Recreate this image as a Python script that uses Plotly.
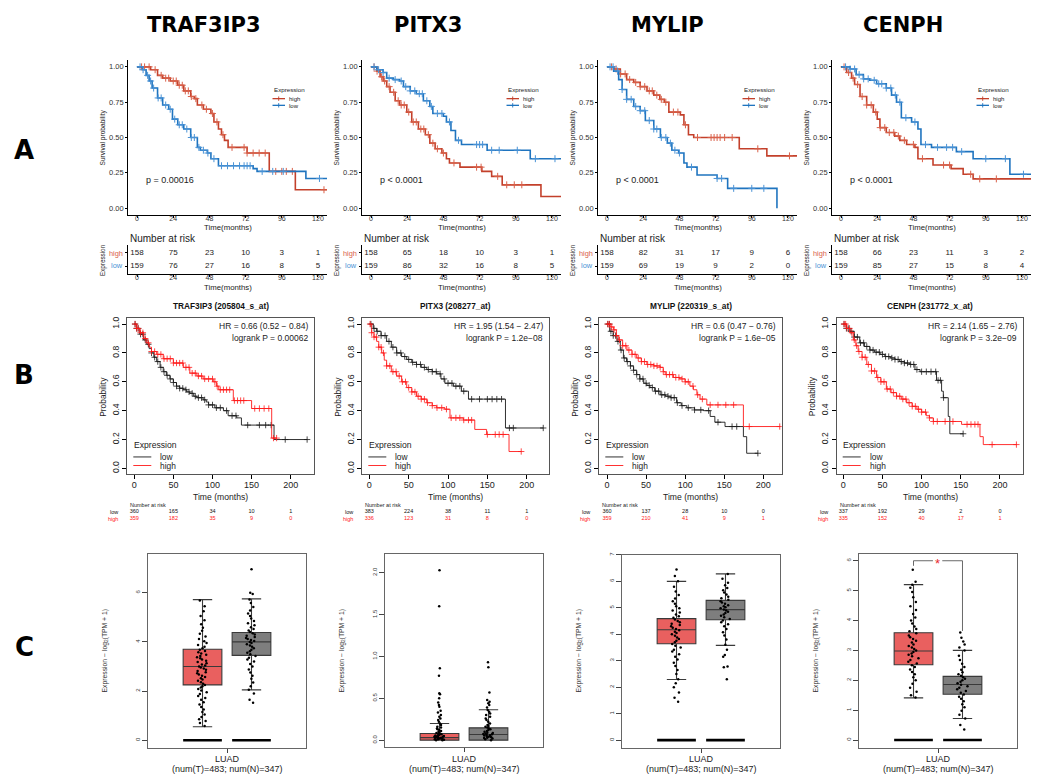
import numpy as np
import plotly.graph_objects as go

# page body has an 8px margin: the figure is sized/offset so reference pixel coords map 1:1
OFF = 8
FW, FH = 1032, 766
def X(px): return (px - OFF) / FW
def Y(py): return 1 - (py - OFF) / FH

FONT = "Liberation Sans, Arial, sans-serif"
NARROW = "Liberation Sans Narrow, Liberation Sans, Arial, sans-serif"
TITLE_FONT = "DejaVu Sans, Verdana, sans-serif"

GENES = ["TRAF3IP3", "PITX3", "MYLIP", "CENPH"]

# ---------------- Row A : TCGA Kaplan-Meier (time, survival) ----------------
A_TRAF3IP3_HIGH = [(0,1.0),(9,0.98),(13.6,0.94),(17,0.92),(22,0.90),(27,0.87),(31,0.83),(35.6,0.79),(38,0.775),(40,0.73),(44,0.70),(49,0.67),(51,0.61),(54,0.56),(56,0.52),(58,0.48),(60.4,0.43),(73,0.39),(87.7,0.26),(105,0.13),(126,0.13)]
A_TRAF3IP3_LOW = [(0,1.0),(3.7,0.98),(6,0.94),(8,0.90),(10,0.85),(13.6,0.78),(17,0.73),(21,0.70),(23.5,0.63),(27,0.59),(31,0.56),(35.6,0.50),(40,0.43),(42,0.41),(46.6,0.39),(49,0.35),(54,0.30),(77,0.28),(79.6,0.26),(112,0.21),(126,0.21)]
A_PITX3_HIGH = [(0,1.0),(3.8,0.97),(6,0.93),(8,0.90),(10.4,0.86),(12.6,0.82),(16,0.76),(19,0.73),(23.7,0.68),(27,0.61),(31.4,0.56),(36,0.52),(39,0.46),(42.5,0.42),(47,0.39),(50,0.35),(52,0.32),(59,0.29),(73.5,0.26),(80,0.225),(87,0.165),(112.7,0.082),(126,0.082)]
A_PITX3_LOW = [(0,1.0),(3.8,0.98),(8,0.96),(10.4,0.92),(14.8,0.91),(19,0.90),(21.5,0.86),(26,0.83),(30,0.81),(34.7,0.76),(39,0.72),(41,0.67),(48,0.65),(50,0.61),(53,0.55),(56,0.48),(60,0.45),(77,0.41),(105.6,0.35),(126,0.35)]
A_MYLIP_HIGH = [(0,1.0),(4.4,0.985),(8.8,0.95),(13,0.91),(17.7,0.89),(22,0.86),(26.5,0.83),(31,0.80),(35,0.77),(38,0.75),(41,0.68),(48.6,0.66),(51,0.59),(54,0.52),(57.5,0.50),(87.7,0.42),(106,0.37),(126,0.37)]
A_MYLIP_LOW = [(0,1.0),(4.4,0.97),(7.7,0.91),(10,0.84),(13,0.77),(17.7,0.72),(22,0.69),(25.4,0.62),(31,0.56),(35.4,0.50),(40,0.46),(43,0.41),(47.5,0.39),(51,0.32),(53,0.29),(59.7,0.235),(73,0.21),(80,0.14),(112.7,0.0)]
A_CENPH_HIGH = [(0,1.0),(3.7,0.96),(7,0.92),(9,0.875),(12.6,0.79),(17,0.73),(21.4,0.68),(24,0.63),(25.8,0.57),(30,0.535),(35.6,0.51),(39,0.48),(43.5,0.45),(49,0.43),(51,0.35),(61,0.305),(73,0.28),(81,0.24),(87.6,0.207),(126,0.207)]
A_CENPH_LOW = [(0,1.0),(6,0.985),(10,0.945),(14.8,0.915),(19,0.905),(23.6,0.88),(30,0.85),(33.5,0.80),(36.8,0.75),(40,0.64),(46.8,0.61),(51,0.56),(53,0.45),(60,0.43),(76.5,0.40),(87.6,0.35),(112,0.24),(126,0.24)]

A_TRAF3IP3_HIGH_CENS = [3,5,8,12,16,19,21,24,26,28,30,32,34,36,39,43,46,50,53,57,63,71,73,77,81,85,92,96,99,103,124]
A_TRAF3IP3_LOW_CENS = [2,4,7,9,11,14,16,19,22,25,28,30,33,36,38,41,44,47,51,56,60,64,68,71,73,75,83,90,97,121]
A_PITX3_HIGH_CENS = [2,4,7,9,12,15,18,20,22,25,28,30,33,35,38,41,44,48,55,70,73,84,90,95,100]
A_PITX3_LOW_CENS = [2,5,8,12,16,20,23,26,29,32,34,37,40,44,47,52,58,70,72,74,80,85,97,109,122]
A_MYLIP_HIGH_CENS = [3,6,9,12,15,19,22,25,28,30,33,36,39,44,47,52,60,69,71,73,75,78,83,100,121]
A_MYLIP_LOW_CENS = [2,4,7,10,13,16,19,22,25,28,31,33,36,39,42,45,48,56,73,76,84,96,104]
A_CENPH_HIGH_CENS = [2,5,8,11,14,17,20,23,26,29,32,35,38,42,48,54,68,72,86,92,103]
A_CENPH_LOW_CENS = [3,6,9,12,15,18,22,25,27,30,33,36,39,43,49,56,64,70,74,80,96,109,121]

A_HIGH_CURVES = [A_TRAF3IP3_HIGH, A_PITX3_HIGH, A_MYLIP_HIGH, A_CENPH_HIGH]
A_LOW_CURVES = [A_TRAF3IP3_LOW, A_PITX3_LOW, A_MYLIP_LOW, A_CENPH_LOW]
A_HIGH_CENS = [A_TRAF3IP3_HIGH_CENS, A_PITX3_HIGH_CENS, A_MYLIP_HIGH_CENS, A_CENPH_HIGH_CENS]
A_LOW_CENS = [A_TRAF3IP3_LOW_CENS, A_PITX3_LOW_CENS, A_MYLIP_LOW_CENS, A_CENPH_LOW_CENS]

A_PVALS = ["p = 0.00016", "p < 0.0001", "p < 0.0001", "p < 0.0001"]
A_TIMES = [0, 24, 48, 72, 96, 120]
A_RISK_HIGH = [[158,75,23,10,3,1],[158,65,18,10,3,1],[158,82,31,17,9,6],[158,66,23,11,3,2]]
A_RISK_LOW = [[159,76,27,16,8,5],[159,86,32,16,8,5],[159,69,19,9,2,0],[159,85,27,15,8,4]]
A_YTICKS = [0, 0.25, 0.5, 0.75, 1.0]
A_YTICKTEXT = ["0.00", "0.25", "0.50", "0.75", "1.00"]

# ---------------- Row B : KM-plotter ----------------
B_PROBES = ["205804_s_at", "208277_at", "220319_s_at", "231772_x_at"]
B_HR = ["HR = 0.66 (0.52 \u2212 0.84)", "HR = 1.95 (1.54 \u2212 2.47)", "HR = 0.6 (0.47 \u2212 0.76)", "HR = 2.14 (1.65 \u2212 2.76)"]
B_LOGRANK = ["logrank P = 0.00062", "logrank P = 1.2e\u221208", "logrank P = 1.6e\u221205", "logrank P = 3.2e\u221209"]

B_TRAF3IP3_LOW = [(0,1.0),(3,0.97),(7,0.93),(12,0.89),(16,0.86),(19,0.83),(22,0.80),(25,0.77),(28.6,0.74),(33,0.70),(37,0.67),(41,0.645),(45.6,0.62),(50,0.595),(54,0.57),(58,0.555),(62.7,0.545),(67,0.53),(71,0.52),(76,0.50),(80,0.49),(88,0.475),(92,0.46),(95,0.44),(103,0.42),(114,0.40),(120,0.365),(131,0.35),(137,0.30),(178.7,0.20),(221,0.20)]
B_TRAF3IP3_HIGH = [(0,1.0),(3,0.97),(7,0.94),(12,0.90),(16,0.87),(19,0.84),(22,0.81),(28.6,0.79),(37,0.76),(50,0.73),(62.7,0.70),(71,0.66),(80,0.64),(88,0.62),(101,0.60),(105,0.57),(108,0.545),(126.6,0.47),(150,0.415),(175.7,0.21),(182,0.21)]
B_PITX3_LOW = [(0,1.0),(5,0.97),(9.3,0.95),(15,0.92),(22,0.88),(28,0.84),(34.7,0.80),(41,0.775),(47.5,0.755),(54,0.735),(60,0.72),(66,0.70),(73,0.685),(80,0.67),(85.6,0.655),(91,0.62),(96,0.59),(106.8,0.57),(117,0.535),(126,0.48),(173,0.28),(221,0.28)]
B_PITX3_HIGH = [(0,1.0),(3,0.94),(6,0.91),(9.3,0.88),(12,0.84),(15.7,0.80),(19,0.75),(22,0.71),(28,0.67),(34.7,0.64),(41,0.60),(47.5,0.56),(54,0.53),(60,0.50),(66,0.48),(73,0.455),(80,0.435),(85.6,0.42),(96,0.41),(102.5,0.35),(119.5,0.335),(134,0.27),(149,0.235),(177.5,0.117),(193,0.117)]
B_MYLIP_LOW = [(0,1.0),(3.4,0.95),(8,0.92),(12.8,0.88),(17,0.82),(21,0.765),(25,0.74),(30,0.71),(34,0.68),(38,0.65),(42,0.62),(47,0.59),(51,0.575),(55,0.56),(61,0.535),(68,0.51),(75,0.50),(81,0.49),(89,0.455),(95,0.435),(102,0.42),(112,0.405),(123.4,0.40),(132,0.36),(138,0.32),(151,0.29),(174.5,0.22),(178.7,0.105),(193,0.105)]
B_MYLIP_HIGH = [(0,1.0),(4,0.98),(8.5,0.96),(12,0.92),(15,0.89),(20,0.85),(25.5,0.82),(32,0.79),(38,0.765),(44,0.74),(51,0.72),(60,0.71),(68,0.70),(72,0.67),(74.5,0.65),(85,0.63),(93,0.62),(100,0.60),(106,0.57),(110.6,0.545),(115,0.51),(119,0.48),(127.7,0.44),(174.5,0.29),(221,0.29)]
B_CENPH_LOW = [(0,1.0),(4,0.97),(8.5,0.95),(14,0.91),(21,0.87),(27,0.845),(34,0.82),(40,0.805),(47,0.79),(53,0.775),(60,0.765),(66,0.755),(72,0.74),(78,0.73),(85,0.72),(91.5,0.685),(98,0.67),(119,0.61),(125.5,0.535),(127.7,0.49),(134,0.36),(136,0.24),(153,0.24)]
B_CENPH_HIGH = [(0,1.0),(4,0.97),(8.5,0.94),(12.8,0.89),(16,0.85),(19,0.81),(24,0.77),(30,0.72),(36,0.675),(42.5,0.63),(48,0.60),(55,0.55),(61,0.525),(68,0.50),(74,0.48),(81,0.455),(88,0.43),(94,0.41),(100,0.39),(106,0.365),(110,0.35),(115,0.325),(151,0.305),(174.5,0.22),(178.7,0.165),(221,0.165)]

B_TRAF3IP3_LOW_CENS = [1,3,5,8,11,14,18,22,26,30,34,38,42,46,50,54,58,62,66,70,74,78,82,86,90,95,100,105,110,118,125,130,145,160,168,175,193,221]
B_TRAF3IP3_HIGH_CENS = [1,3,5,8,11,14,18,22,26,30,34,38,42,46,50,54,58,62,66,70,74,78,82,86,90,95,100,103,106,110,114,118,122,128,132,136,140,154,160,166,172,178,182]
B_PITX3_LOW_CENS = [2,6,10,15,20,25,30,35,40,45,50,55,60,65,70,75,80,85,90,95,100,105,110,115,120,130,140,150,156,162,168,178,183,221]
B_PITX3_HIGH_CENS = [1,3,6,9,12,15,18,22,26,30,34,38,42,46,50,54,58,62,66,70,74,80,86,92,98,104,110,115,120,126,130,150,160,165,170,193]
B_MYLIP_LOW_CENS = [1,3,5,8,11,14,18,22,26,30,34,38,42,46,50,54,58,62,66,70,74,78,82,86,90,96,104,112,120,130,142,160,166,193]
B_MYLIP_HIGH_CENS = [1,3,6,9,12,16,20,24,28,32,36,40,44,48,52,56,60,64,68,72,76,80,84,88,92,96,100,104,110,116,122,132,142,152,162,182,221]
B_CENPH_LOW_CENS = [1,4,7,10,14,18,22,26,30,34,38,42,46,50,54,58,62,66,70,74,78,82,86,90,94,100,106,112,118,121,124,128,153]
B_CENPH_HIGH_CENS = [1,3,5,8,11,14,17,20,24,28,32,36,40,44,48,52,56,60,64,68,72,76,80,84,88,92,96,100,105,110,115,120,130,140,158,163,168,172,190,221]

B_LOW_CURVES = [B_TRAF3IP3_LOW, B_PITX3_LOW, B_MYLIP_LOW, B_CENPH_LOW]
B_HIGH_CURVES = [B_TRAF3IP3_HIGH, B_PITX3_HIGH, B_MYLIP_HIGH, B_CENPH_HIGH]
B_LOW_CENS = [B_TRAF3IP3_LOW_CENS, B_PITX3_LOW_CENS, B_MYLIP_LOW_CENS, B_CENPH_LOW_CENS]
B_HIGH_CENS = [B_TRAF3IP3_HIGH_CENS, B_PITX3_HIGH_CENS, B_MYLIP_HIGH_CENS, B_CENPH_HIGH_CENS]

B_TIMES = [0, 50, 100, 150, 200]
B_RISK_LOW = [[360,165,34,10,1],[383,224,38,11,1],[360,137,28,10,0],[337,192,29,2,0]]
B_RISK_HIGH = [[359,182,35,9,0],[336,123,31,8,0],[359,210,41,9,1],[335,152,40,17,1]]
B_YTICKS = [0.0, 0.2, 0.4, 0.6, 0.8, 1.0]
B_YTICKTEXT = ["0.0", "0.2", "0.4", "0.6", "0.8", "1.0"]

# ---------------- Row C : GEPIA box plots ----------------
C_CATEGORY = "LUAD"
C_SAMPLE_LABEL = "(num(T)=483; num(N)=347)"
# (lowerfence, q1, median, q3, upperfence)
C_TUMOR_STATS = [(0.55,2.25,3.0,3.7,5.72),(0.0,0.0,0.03,0.08,0.2),(2.29,3.64,4.17,4.59,6.0),(1.41,2.52,2.98,3.59,5.2)]
C_NORMAL_STATS = [(2.05,3.45,4.0,4.38,5.75),(0.0,0.0,0.067,0.147,0.364),(3.58,4.55,4.93,5.28,6.28),(0.72,1.53,1.86,2.13,3.0)]
C_ZERO_BAR = [True, False, True, True]

C_TRAF3IP3_T = [0.58,0.7,0.78,0.85,0.95,1.05,1.15,1.25,1.35,1.45,1.55,1.65,1.72,1.8,1.88,1.95,2.02,2.08,2.14,2.2,2.25,2.3,2.36,2.42,2.47,2.52,2.57,2.62,2.67,2.72,2.77,2.82,2.87,2.92,2.96,3.0,3.04,3.08,3.13,3.18,3.23,3.28,3.33,3.38,3.43,3.48,3.53,3.58,3.63,3.68,3.74,3.8,3.87,3.95,4.03,4.12,4.22,4.33,4.45,4.58,4.72,4.88,5.05,5.25,5.45,5.68]
C_TRAF3IP3_N = [1.52,1.65,1.9,2.05,2.2,2.35,2.5,2.62,2.75,2.88,3.0,3.1,3.2,3.28,3.36,3.43,3.5,3.56,3.62,3.68,3.74,3.8,3.85,3.9,3.95,4.0,4.04,4.08,4.12,4.16,4.2,4.25,4.3,4.35,4.4,4.46,4.52,4.6,4.68,4.76,4.85,4.95,5.05,5.15,5.28,5.42,5.58,5.72,5.95,6.0,6.95]
C_PITX3_T = [0.0,0.0,0.005,0.01,0.01,0.015,0.02,0.02,0.025,0.03,0.03,0.035,0.04,0.04,0.045,0.05,0.05,0.055,0.06,0.065,0.07,0.075,0.08,0.085,0.09,0.1,0.11,0.12,0.13,0.14,0.15,0.16,0.18,0.2,0.22,0.24,0.26,0.28,0.3,0.33,0.35,0.4,0.42,0.45,0.5,0.55,0.56,0.77,0.86,1.6,2.03]
C_PITX3_N = [0.0,0.01,0.02,0.025,0.03,0.035,0.04,0.045,0.05,0.055,0.06,0.065,0.07,0.075,0.08,0.085,0.09,0.1,0.11,0.12,0.13,0.14,0.15,0.16,0.17,0.18,0.2,0.22,0.24,0.26,0.28,0.3,0.32,0.34,0.36,0.39,0.42,0.44,0.46,0.48,0.57,0.87,0.93]
C_MYLIP_T = [1.45,1.6,1.8,2.0,2.15,2.3,2.5,2.65,2.8,2.92,3.05,3.15,3.25,3.35,3.42,3.5,3.57,3.63,3.7,3.76,3.82,3.88,3.94,4.0,4.05,4.1,4.15,4.2,4.25,4.3,4.35,4.4,4.45,4.5,4.56,4.62,4.68,4.75,4.82,4.9,4.98,5.06,5.15,5.25,5.35,5.48,5.62,5.8,6.0,6.2,6.45]
C_MYLIP_N = [2.3,2.75,2.78,3.15,3.22,3.42,3.6,3.8,3.95,4.08,4.2,4.3,4.38,4.45,4.52,4.58,4.64,4.7,4.75,4.8,4.85,4.9,4.94,4.98,5.02,5.06,5.1,5.15,5.2,5.25,5.3,5.36,5.42,5.5,5.58,5.66,5.75,5.85,5.95,6.1,6.28]
C_CENPH_T = [1.42,1.5,1.62,1.75,1.88,2.0,2.1,2.2,2.28,2.36,2.44,2.5,2.56,2.62,2.68,2.74,2.8,2.85,2.9,2.95,3.0,3.05,3.1,3.15,3.2,3.26,3.32,3.38,3.44,3.5,3.57,3.64,3.72,3.8,3.9,4.0,4.1,4.22,4.35,4.48,4.62,4.78,4.95,5.1,5.2,5.3,5.7]
C_CENPH_N = [0.35,0.5,0.72,0.85,0.98,1.1,1.2,1.3,1.38,1.45,1.52,1.58,1.64,1.7,1.75,1.8,1.85,1.9,1.95,2.0,2.05,2.1,2.15,2.2,2.27,2.35,2.44,2.55,2.68,2.82,3.0,3.1,3.2,3.3,3.42,3.6]
C_TUMOR_POINTS = [C_TRAF3IP3_T, C_PITX3_T, C_MYLIP_T, C_CENPH_T]
C_NORMAL_POINTS = [C_TRAF3IP3_N, C_PITX3_N, C_MYLIP_N, C_CENPH_N]

C_YTICKS = [[0,2,4,6],[0,0.5,1.0,1.5,2.0],[0,1,2,3,4,5,6,7],[0,1,2,3,4,5,6]]
C_YTICKTEXT = [["0","2","4","6"],["0.0","0.5","1.0","1.5","2.0"],["0","1","2","3","4","5","6","7"],["0","1","2","3","4","5","6"]]
C_YRANGE = [[-0.32,7.58],[-0.083,2.226],[-0.3,7.0],[-0.27,6.23]]
CENPH_SIG = [6.0, 5.83, 3.65]   # bracket height, left foot, right foot

# ---------------- styling / geometry ----------------
A_RED, A_BLUE = "#C3402B", "#1F74BF"
A_RED_T, A_BLUE_T = "#D9614A", "#4A93D6"
B_BLACK, B_RED = "#1a1a1a", "#FF1A1A"
C_RED, C_GREY = "#E9605F", "#7E7E7E"

A_LEFT = [128, 362, 598, 832]
A_W = 199
B_LEFT = [127.3, 362.3, 599.3, 836.7]
B_RIGHT = [314.0, 549.0, 781.7, 1023.3]
B_XRANGE = [[-8.95, 229.8], [-8.9, 228.3], [-9.85, 223.5], [-8.4, 229.8]]
C_LEFT = [148, 385, 622, 859]
C_W = 158
C_TOPBOT = [(553, 748), (553, 747), (554, 748), (553, 748)]
C_POS_T, C_POS_N, C_BOXW = 0.345, 0.655, 0.245

axes = {}
def add_axes(k, xdom, ydom, xopts, yopts):
    xn = 'xaxis' if k == 1 else f'xaxis{k}'
    yn = 'yaxis' if k == 1 else f'yaxis{k}'
    xr = 'x' if k == 1 else f'x{k}'
    yr = 'y' if k == 1 else f'y{k}'
    axes[xn] = dict(domain=[X(xdom[0]), X(xdom[1])], anchor=yr, **xopts)
    axes[yn] = dict(domain=[Y(ydom[1]), Y(ydom[0])], anchor=xr, **yopts)
    return xr, yr

def st(size=7.5, color='#333', family=FONT, **kw):
    d = dict(showgrid=False, zeroline=False, showline=True, linecolor='black', linewidth=0.8,
             ticks='outside', tickcolor='black', tickwidth=0.8, ticklen=3, fixedrange=True,
             tickfont=dict(family=family, size=size, color=color))
    d.update(kw)
    return d

def bare(rng):
    return dict(range=rng, showticklabels=False, showline=False, ticks='', showgrid=False,
                zeroline=False, fixedrange=True)

def surv_at(curve, times):
    ts = np.array([p[0] for p in curve]); ss = np.array([p[1] for p in curve])
    idx = np.searchsorted(ts, np.array(times, dtype=float), side='right') - 1
    return ss[np.clip(idx, 0, len(ss) - 1)]

fig = go.Figure()
ann = []
shapes = []

def A(text, x, y, size, color='#222', family=FONT, xanchor='center', yanchor='middle', angle=0,
      weight='normal'):
    ann.append(dict(text=text, x=x, y=y, xref='paper', yref='paper', showarrow=False,
                    xanchor=xanchor, yanchor=yanchor, textangle=angle,
                    font=dict(family=family, size=size, color=color, weight=weight)))

def line_shape(x0, y0, x1, y1, color, width, xref='paper', yref='paper'):
    shapes.append(dict(type='line', x0=x0, y0=y0, x1=x1, y1=y1, xref=xref, yref=yref,
                       line=dict(color=color, width=width)))

# ---- column titles and row letters ----
for g, cx in zip(GENES, [204, 428, 667, 903]):
    A(g, X(cx), Y(22), 21, '#000', TITLE_FONT, weight='bold')
for letter, cy in zip(["A", "B", "C"], [148, 373, 647]):
    A(letter, X(24), Y(cy), 26, '#000', TITLE_FONT, weight='bold')

# ---- Row A ----
for i in range(4):
    L = A_LEFT[i]; R = L + A_W
    xr, yr = add_axes(1 + i, (L, R), (57, 213),
                      st(size=7, tickvals=A_TIMES, range=[-6, 126], ticklen=2, ticklabelstandoff=-5),
                      st(tickvals=A_YTICKS, ticktext=A_YTICKTEXT, range=[-0.05, 1.05], ticklen=2))
    for curve, cens, col, colt in [(A_HIGH_CURVES[i], A_HIGH_CENS[i], A_RED, A_RED_T),
                                   (A_LOW_CURVES[i], A_LOW_CENS[i], A_BLUE, A_BLUE_T)]:
        fig.add_trace(go.Scatter(x=[p[0] for p in curve], y=[p[1] for p in curve], mode='lines',
                                 line=dict(color=col, width=1.6, shape='hv'), xaxis=xr, yaxis=yr,
                                 hoverinfo='skip'))
        fig.add_trace(go.Scatter(x=cens, y=surv_at(curve, cens), mode='markers',
                                 marker=dict(symbol='cross-thin', size=5, line=dict(color=colt, width=1)),
                                 xaxis=xr, yaxis=yr, hoverinfo='skip'))
    # risk table
    txr, tyr = add_axes(5 + i, (L, R), (243, 272),
                        st(size=7, tickvals=A_TIMES, range=[-6, 126], ticklen=2, ticklabelstandoff=-5),
                        st(tickvals=[1, 2], range=[0.4, 2.6], ticklen=2, showticklabels=False))
    fig.add_trace(go.Scatter(x=A_TIMES, y=[2] * 6, text=[str(v) for v in A_RISK_HIGH[i]], mode='text',
                             textfont=dict(family=FONT, size=8, color='#222'), xaxis=txr, yaxis=tyr,
                             cliponaxis=False, hoverinfo='skip'))
    fig.add_trace(go.Scatter(x=A_TIMES, y=[1] * 6, text=[str(v) for v in A_RISK_LOW[i]], mode='text',
                             textfont=dict(family=FONT, size=8, color='#222'), xaxis=txr, yaxis=tyr,
                             cliponaxis=False, hoverinfo='skip'))
    A("high", X(L - 3.5), Y(251), 7.4, A_RED_T, xanchor='right')
    A("low", X(L - 3.5), Y(264), 7.4, A_BLUE_T, xanchor='right')
    A("Survival probability", X(L - 25), Y(135), 6.6, angle=-90)
    A("Time(months)", X((L + R) / 2), Y(225.5), 7.8)
    A(A_PVALS[i], X(L + 16), Y(178), 9, xanchor='left')
    A("Expression", X(L + 144), Y(87), 6.2, xanchor='left')
    A("high", X(L + 158.5), Y(96), 6, xanchor='left')
    A("low", X(L + 158.5), Y(103), 6, xanchor='left')
    for yy, col in [(96, A_RED), (102.7, A_BLUE)]:
        line_shape(X(L + 144.5), Y(yy), X(L + 157), Y(yy), col, 1.3)
        line_shape(X(L + 150.7), Y(yy - 2.2), X(L + 150.7), Y(yy + 2.2), col, 0.9)
    A("Number at risk", X(L - 0.5), Y(236), 10, xanchor='left')
    A("Expression", X(L - 25), Y(258), 6.3, angle=-90)
    A("Time(months)", X((L + R) / 2), Y(285.5), 7.8)

# ---- Row B ----
for i in range(4):
    L = B_LEFT[i]; R = B_RIGHT[i]
    xr, yr = add_axes(9 + i, (L, R), (316.5, 473),
                      st(size=9, color='#222', tickvals=B_TIMES, range=B_XRANGE[i], mirror=True,
                         linecolor='#555', ticklen=4, ticklabelstandoff=-2),
                      st(size=8.6, color='#222', tickvals=B_YTICKS, ticktext=B_YTICKTEXT, range=[-0.04, 1.04],
                         mirror=True, linecolor='#555', ticklen=4, tickangle=-90))
    for curve, cens, col in [(B_LOW_CURVES[i], B_LOW_CENS[i], B_BLACK),
                             (B_HIGH_CURVES[i], B_HIGH_CENS[i], B_RED)]:
        fig.add_trace(go.Scatter(x=[p[0] for p in curve], y=[p[1] for p in curve], mode='lines',
                                 line=dict(color=col, width=0.9, shape='hv'), xaxis=xr, yaxis=yr,
                                 hoverinfo='skip'))
        fig.add_trace(go.Scatter(x=cens, y=surv_at(curve, cens), mode='markers',
                                 marker=dict(symbol='cross-thin', size=4.5, line=dict(color=col, width=0.8)),
                                 xaxis=xr, yaxis=yr, hoverinfo='skip'))
    txr, tyr = add_axes(13 + i, (L, R), (507, 521), bare(B_XRANGE[i]), bare([0.5, 2.5]))
    fig.add_trace(go.Scatter(x=B_TIMES, y=[2] * 5, text=[str(v) for v in B_RISK_LOW[i]], mode='text',
                             textfont=dict(family=FONT, size=5.5, color='#111'), xaxis=txr, yaxis=tyr,
                             cliponaxis=False, hoverinfo='skip'))
    fig.add_trace(go.Scatter(x=B_TIMES, y=[1] * 5, text=[str(v) for v in B_RISK_HIGH[i]], mode='text',
                             textfont=dict(family=FONT, size=5.5, color=B_RED), xaxis=txr, yaxis=tyr,
                             cliponaxis=False, hoverinfo='skip'))
    A(f"{GENES[i]} ({B_PROBES[i]})", X((L + R) / 2), Y(304), 8.3, '#111', weight='bold')
    A(B_HR[i], X(R - 4), Y(324.5), 8.5, xanchor='right')
    A(B_LOGRANK[i], X(R - 4), Y(336), 8.5, xanchor='right')
    A("Probability", X(L - 24), Y(395), 8.4, angle=-90)
    A("Time (months)", X((L + R) / 2), Y(496), 8.6)
    A("Expression", X(L + 4.5), Y(444), 8.6, xanchor='left')
    A("low", X(L + 31), Y(455.7), 8.4, xanchor='left')
    A("high", X(L + 31), Y(464.3), 8.4, xanchor='left')
    line_shape(X(L + 6), Y(455.7), X(L + 24), Y(455.7), B_BLACK, 0.9)
    line_shape(X(L + 6), Y(464.3), X(L + 24), Y(464.3), B_RED, 0.9)
    A("Number at risk", X(L + 1), Y(504), 5.5, xanchor='left')
    A("low", X(L - 7), Y(510.7), 5.5, '#111', xanchor='right')
    A("high", X(L - 7), Y(517.7), 5.5, B_RED, xanchor='right')

# ---- Row C ----
for i in range(4):
    L = C_LEFT[i]; R = L + C_W
    top, bot = C_TOPBOT[i]
    xr, yr = add_axes(17 + i, (L, R), (top, bot),
                      st(range=[0, 1], tickvals=[0.5], showticklabels=False, mirror=True, linecolor='#666',
                         ticklen=4, tickcolor='#444'),
                      st(size=6, color='#333', family=NARROW, range=C_YRANGE[i], tickvals=C_YTICKS[i],
                         ticktext=C_YTICKTEXT[i], mirror=True, linecolor='#666', ticklen=5, tickcolor='#444',
                         tickangle=-90))
    for pos, stats, pts, fill in [(C_POS_T, C_TUMOR_STATS[i], C_TUMOR_POINTS[i], C_RED),
                                  (C_POS_N, C_NORMAL_STATS[i], C_NORMAL_POINTS[i], C_GREY)]:
        lo, q1, med, q3, hi = stats
        fig.add_trace(go.Box(x=[pos], q1=[q1], median=[med], q3=[q3], lowerfence=[lo], upperfence=[hi],
                             orientation='v', width=C_BOXW, fillcolor=fill, boxpoints=False,
                             line=dict(color='#3a3a3a', width=1.1), whiskerwidth=0.5,
                             xaxis=xr, yaxis=yr, hoverinfo='skip'))
        fig.add_trace(go.Box(x=[pos] * len(pts), y=pts, boxpoints='all', jitter=0.3, pointpos=0,
                             width=C_BOXW, fillcolor='rgba(0,0,0,0)',
                             line=dict(color='rgba(0,0,0,0)', width=0),
                             marker=dict(size=2.5, color='black'), xaxis=xr, yaxis=yr, hoverinfo='skip'))
        if C_ZERO_BAR[i]:
            fig.add_trace(go.Scatter(x=[pos - C_BOXW / 2, pos + C_BOXW / 2], y=[0, 0], mode='lines',
                                     line=dict(color='black', width=2.6), xaxis=xr, yaxis=yr,
                                     hoverinfo='skip'))
    A("Expression \u2212 log<sub>2</sub>(TPM + 1)", X(L - 43), Y(650), 6.8, '#333', NARROW, angle=-90)
    A(C_CATEGORY, X(L + 79), Y(759), 9, '#222')
    A(C_SAMPLE_LABEL, X(L + 79), Y(768.5), 9, '#222')
    if i == 3:
        top_y, lf, rf = CENPH_SIG
        line_shape(C_POS_T, top_y, C_POS_T, lf, '#444', 0.8, xr, yr)
        line_shape(C_POS_T, top_y, 0.468, top_y, '#444', 0.8, xr, yr)
        line_shape(0.527, top_y, C_POS_N, top_y, '#444', 0.8, xr, yr)
        line_shape(C_POS_N, top_y, C_POS_N, rf, '#444', 0.8, xr, yr)
        ann.append(dict(text="*", x=0.497, y=top_y, xref=xr, yref=yr, showarrow=False,
                        xanchor='center', yanchor='middle', yshift=-3,
                        font=dict(family=FONT, size=13, color='#E8282B')))

fig.update_layout(width=FW, height=FH, margin=dict(l=0, r=0, t=0, b=0),
                  paper_bgcolor='white', plot_bgcolor='white', showlegend=False,
                  annotations=ann, shapes=shapes, boxmode='overlay', **axes)
fig.write_html("out.html")
